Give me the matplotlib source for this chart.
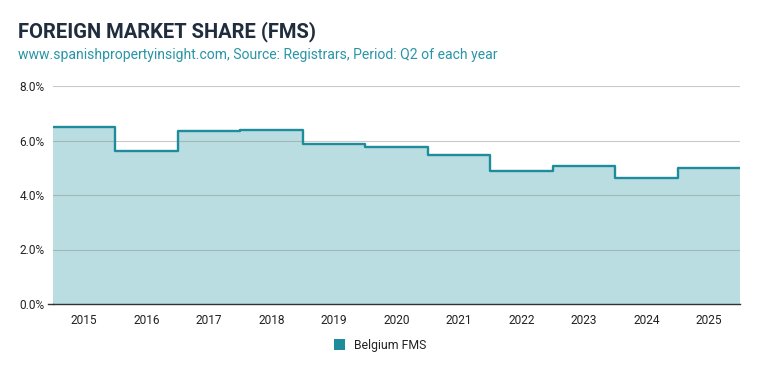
import matplotlib
matplotlib.use("Agg")
import matplotlib.pyplot as plt
import matplotlib.transforms as mtransforms
from matplotlib.patches import Rectangle
import numpy as np

years = ["2015", "2016", "2017", "2018", "2019", "2020", "2021", "2022", "2023", "2024", "2025"]
belgium_fms = [6.48, 5.63, 6.35, 6.39, 5.88, 5.76, 5.47, 4.88, 5.06, 4.64, 4.99]
y_ticks = [0, 2, 4, 6, 8]
y_tick_labels = ["0.0%", "2.0%", "4.0%", "6.0%", "8.0%"]

plt.rcParams['font.family'] = ['Roboto', 'DejaVu Sans']

line_color = "#1f8c9c"
fill_color = "#badde1"

fig = plt.figure(figsize=(7.59, 3.71), dpi=100)
ax = fig.add_axes([53/759, 1-304/371, (740-53)/759, (304-86)/371])

n = len(years)
edges = np.arange(n + 1) - 0.5
ax.stairs(belgium_fms, edges, fill=True, color=fill_color, baseline=0, zorder=1, linewidth=0)
ax.stairs(belgium_fms, edges, baseline=None, color=line_color, linewidth=1.7, zorder=3,
          joinstyle='round')

ax.set_xlim(-0.5, n - 0.5)
ax.set_ylim(0, 8)
ax.set_yticks(y_ticks)
ax.set_yticklabels(y_tick_labels)
ax.set_xticks(np.arange(n))
ax.set_xticklabels(years)
ax.tick_params(axis='both', length=0, labelsize=8.6, colors="#222222")
ax.tick_params(axis='y', pad=6)
ax.tick_params(axis='x', pad=7)
for s in ['top', 'right', 'left']:
    ax.spines[s].set_visible(False)
ax.spines['bottom'].set_color("#333333")
ax.spines['bottom'].set_linewidth(1.0)
ax.spines['bottom'].set_zorder(4)
ax.set_axisbelow(False)
ax.grid(axis='y', color="#888888", alpha=0.45, linewidth=0.8, zorder=2)
ax.grid(axis='x', visible=False)

# small tick at 0.0%
trans = mtransforms.blended_transform_factory(ax.transAxes, ax.transData)
ax.plot([-0.008, 0], [0, 0], transform=trans, color="#333333", linewidth=1.0, clip_on=False)

fig.text(18/759, 1-37/371, "FOREIGN MARKET SHARE (FMS)", fontsize=14.5, fontweight='bold',
         color="#1f2d3d", ha='left', va='baseline')
fig.text(18/759, 1-59/371, "www.spanishpropertyinsight.com, Source: Registrars, Period: Q2 of each year",
         fontsize=10.05, color="#2a95a6", ha='left', va='baseline')

# legend
fig.patches.append(Rectangle((334/759, 1-350/371), 11/759, 11/371, transform=fig.transFigure,
                             facecolor=line_color, edgecolor='none'))
fig.text(354/759, 1-345/371, "Belgium FMS", fontsize=8.8, color="#222222", ha='left', va='center')

fig.savefig("out.png", dpi=100)
